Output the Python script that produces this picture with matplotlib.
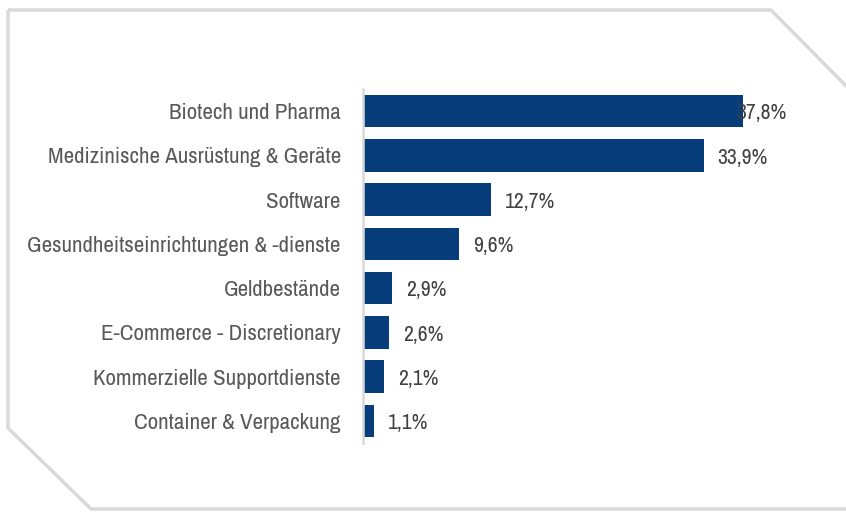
import matplotlib
matplotlib.use("Agg")
import matplotlib.pyplot as plt
from matplotlib.patches import Polygon
from matplotlib import font_manager

categories = [
    "Biotech und Pharma",
    "Medizinische Ausrüstung & Geräte",
    "Software",
    "Gesundheitseinrichtungen & -dienste",
    "Geldbestände",
    "E-Commerce - Discretionary",
    "Kommerzielle Supportdienste",
    "Container & Verpackung",
]
values = [37.8, 33.9, 12.7, 9.6, 2.9, 2.6, 2.1, 1.1]
value_labels = ["37,8%", "33,9%", "12,7%", "9,6%", "2,9%", "2,6%", "2,1%", "1,1%"]

names = {f.name for f in font_manager.fontManager.ttflist}
fam = [f for f in ["Liberation Sans Narrow", "Archivo Narrow", "Liberation Sans", "DejaVu Sans"] if f in names]
plt.rcParams['font.family'] = fam

W, H = 846, 512
fig = plt.figure(figsize=(W / 100, H / 100), dpi=100)
fig.patch.set_facecolor("white")

# chamfered frame
frame = Polygon([(8 / W, 1 - 10 / H), (771 / W, 1 - 10 / H), (860 / W, 1 - 100 / H),
                 (860 / W, 1 - 509 / H), (91 / W, 1 - 509 / H), (8 / W, 1 - 428 / H)],
                closed=True, transform=fig.transFigure, facecolor="none",
                edgecolor="#d9d9d9", linewidth=2.5, zorder=-5, clip_on=False)
fig.patches.append(frame)

ax = fig.add_axes([363 / W, 1 - 443 / H, 437 / W, 354 / H])
ax.set_facecolor("none")
y = list(range(len(categories)))
ax.barh(y, values, height=0.73, color="#083D7C", zorder=2)
ax.set_ylim(len(categories) - 0.5, -0.5)
xmax = 43.5
ax.set_xlim(0, xmax)
ax.set_yticks(y)
ax.set_yticklabels(categories, fontsize=16.5, color="#595959")
ax.tick_params(axis="y", length=0, pad=16)
ax.set_xticks([])
for s in ["top", "right", "bottom"]:
    ax.spines[s].set_visible(False)
ax.spines["left"].set_color("#d9d9d9")
ax.spines["left"].set_linewidth(1.8)

cap = 37.15
for yi, v, lab in zip(y, values, value_labels):
    xl = v + 1.4
    if xl > cap:
        xl = cap
    ax.text(xl, yi + 0.05, lab, ha="left", va="center", fontsize=15.5, color="#404040", zorder=3)

fig.savefig("out.png", dpi=100)
